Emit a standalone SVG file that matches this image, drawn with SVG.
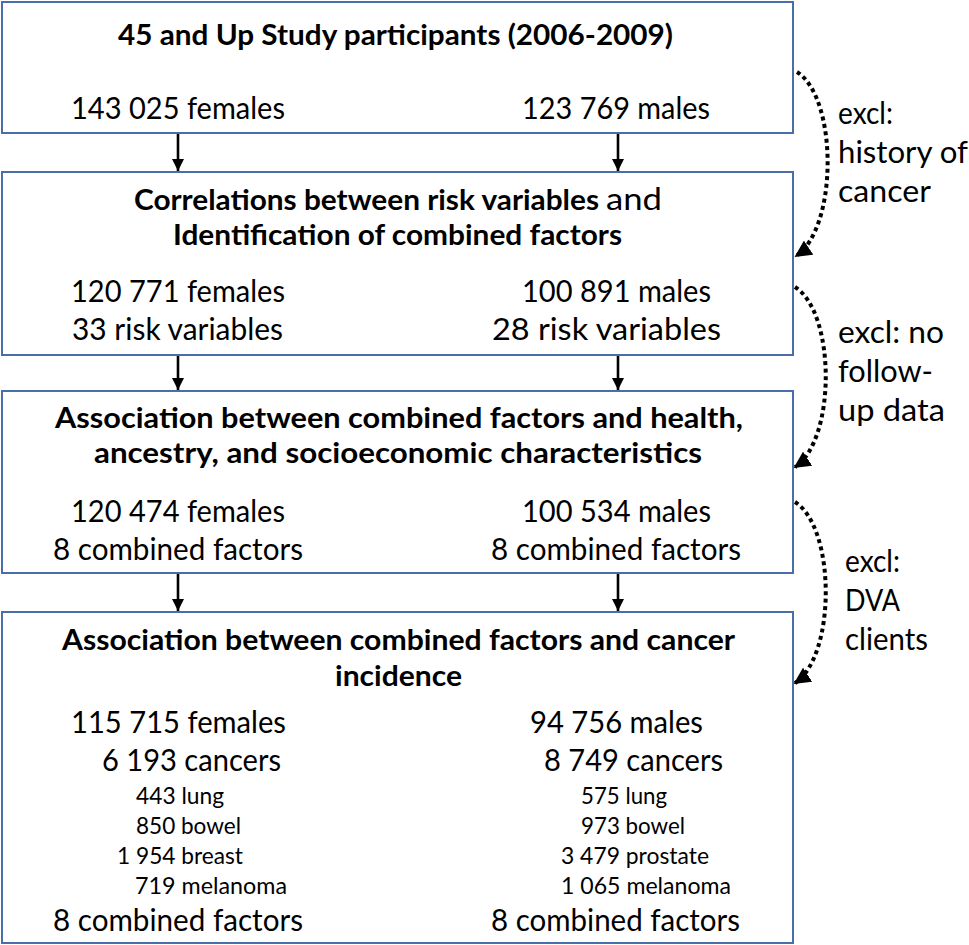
<svg xmlns="http://www.w3.org/2000/svg" width="969" height="945" viewBox="0 0 969 945">
<defs>
<style>
.box{fill:#ffffff;stroke:#4A6FA8;stroke-width:2}
.t{font-family:Lato,"Open Sans","Liberation Sans",sans-serif;font-size:30.5px;fill:#000}
.b{font-weight:bold;font-size:29px}
.s{font-size:23px}
.arr{stroke:#000;stroke-width:2.6;fill:none}
.dot{stroke:#000;stroke-width:4;fill:none;stroke-dasharray:4 3.5}
</style>
<marker id="ah" viewBox="0 0 10 10" refX="10" refY="5" markerWidth="5" markerHeight="4.6" orient="auto" markerUnits="strokeWidth">
<path d="M0,0 L10,5 L0,10 z" fill="#000"/>
</marker>
<marker id="dh" viewBox="0 0 10 10" refX="9" refY="5" markerWidth="4.2" markerHeight="4.2" orient="auto" markerUnits="strokeWidth">
<path d="M0,0 L10,5 L0,10 z" fill="#000"/>
</marker>
</defs>
<rect width="969" height="945" fill="#ffffff"/>

<g id="connectors">
<line class="arr" x1="178" y1="134" x2="178" y2="171" marker-end="url(#ah)"/>
<line class="arr" x1="618" y1="134" x2="618" y2="171" marker-end="url(#ah)"/>
<line class="arr" x1="178" y1="356" x2="178" y2="390" marker-end="url(#ah)"/>
<line class="arr" x1="618" y1="356" x2="618" y2="390" marker-end="url(#ah)"/>
<line class="arr" x1="178" y1="574" x2="178" y2="611" marker-end="url(#ah)"/>
<line class="arr" x1="618" y1="574" x2="618" y2="611" marker-end="url(#ah)"/>
<path class="dot" d="M797,72 C838,98 838,228 796,256" marker-end="url(#dh)"/>
<path class="dot" d="M795,287 C836,313 836,440 795,467" marker-end="url(#dh)"/>
<path class="dot" d="M795,502 C836,528 836,656 795,683" marker-end="url(#dh)"/>
</g>

<g id="node-participants">
<rect class="box" x="2" y="2" width="791" height="131"/>
<text class="t b" x="118" y="45" textLength="555" lengthAdjust="spacingAndGlyphs">45 and Up Study participants (2006-2009)</text>
<text class="t" x="71" y="119" textLength="214" lengthAdjust="spacingAndGlyphs">143 025 females</text>
<text class="t" x="522" y="119" textLength="188" lengthAdjust="spacingAndGlyphs">123 769 males</text>
</g>

<g id="node-correlations">
<rect class="box" x="2" y="172" width="791" height="183"/>
<text class="t b" x="134" y="210" textLength="465" lengthAdjust="spacingAndGlyphs">Correlations between risk variables</text>
<text class="t" x="606" y="210" textLength="56" lengthAdjust="spacingAndGlyphs">and</text>
<text class="t b" x="173" y="245" textLength="449" lengthAdjust="spacingAndGlyphs">Identification of combined factors</text>
<text class="t" x="71" y="302" textLength="214" lengthAdjust="spacingAndGlyphs">120 771 females</text>
<text class="t" x="72" y="340" textLength="211" lengthAdjust="spacingAndGlyphs">33 risk variables</text>
<text class="t" x="522" y="302" textLength="189" lengthAdjust="spacingAndGlyphs">100 891 males</text>
<text class="t" x="492" y="340" textLength="229" lengthAdjust="spacingAndGlyphs">28 risk variables</text>
</g>

<g id="node-association-health">
<rect class="box" x="2" y="391" width="791" height="182"/>
<text class="t b" x="55" y="428" textLength="688" lengthAdjust="spacingAndGlyphs">Association between combined factors and health,</text>
<text class="t b" x="94" y="463" textLength="608" lengthAdjust="spacingAndGlyphs">ancestry, and socioeconomic characteristics</text>
<text class="t" x="71" y="522" textLength="214" lengthAdjust="spacingAndGlyphs">120 474 females</text>
<text class="t" x="53" y="560" textLength="250" lengthAdjust="spacingAndGlyphs">8 combined factors</text>
<text class="t" x="522" y="522" textLength="189" lengthAdjust="spacingAndGlyphs">100 534 males</text>
<text class="t" x="491" y="560" textLength="250" lengthAdjust="spacingAndGlyphs">8 combined factors</text>
</g>

<g id="node-association-cancer">
<rect class="box" x="2" y="612" width="791" height="331"/>
<text class="t b" x="62" y="650" textLength="673" lengthAdjust="spacingAndGlyphs">Association between combined factors and cancer</text>
<text class="t b" x="335" y="686" textLength="127" lengthAdjust="spacingAndGlyphs">incidence</text>
<text class="t" x="71" y="733" textLength="215" lengthAdjust="spacingAndGlyphs">115 715 females</text>
<text class="t" x="102" y="771" textLength="179" lengthAdjust="spacingAndGlyphs">6 193 cancers</text>
<text class="t s" x="136" y="804" textLength="88" lengthAdjust="spacingAndGlyphs">443 lung</text>
<text class="t s" x="136" y="834" textLength="105" lengthAdjust="spacingAndGlyphs">850 bowel</text>
<text class="t s" x="117" y="864" textLength="126" lengthAdjust="spacingAndGlyphs">1 954 breast</text>
<text class="t s" x="135" y="894" textLength="152" lengthAdjust="spacingAndGlyphs">719 melanoma</text>
<text class="t" x="53" y="931" textLength="250" lengthAdjust="spacingAndGlyphs">8 combined factors</text>
<text class="t" x="530" y="733" textLength="173" lengthAdjust="spacingAndGlyphs">94 756 males</text>
<text class="t" x="544" y="771" textLength="179" lengthAdjust="spacingAndGlyphs">8 749 cancers</text>
<text class="t s" x="581" y="804" textLength="86" lengthAdjust="spacingAndGlyphs">575 lung</text>
<text class="t s" x="581" y="834" textLength="104" lengthAdjust="spacingAndGlyphs">973 bowel</text>
<text class="t s" x="561" y="864" textLength="148" lengthAdjust="spacingAndGlyphs">3 479 prostate</text>
<text class="t s" x="561" y="894" textLength="170" lengthAdjust="spacingAndGlyphs">1 065 melanoma</text>
<text class="t" x="491" y="931" textLength="249" lengthAdjust="spacingAndGlyphs">8 combined factors</text>
</g>

<g id="label-excl-cancer">
<text class="t" x="838" y="124" textLength="55" lengthAdjust="spacingAndGlyphs">excl:</text>
<text class="t" x="838" y="163" textLength="130" lengthAdjust="spacingAndGlyphs">history of</text>
<text class="t" x="838" y="202" textLength="93" lengthAdjust="spacingAndGlyphs">cancer</text>
</g>
<g id="label-excl-followup">
<text class="t" x="838" y="343" textLength="106" lengthAdjust="spacingAndGlyphs">excl: no</text>
<text class="t" x="838" y="382" textLength="95" lengthAdjust="spacingAndGlyphs">follow-</text>
<text class="t" x="838" y="421" textLength="107" lengthAdjust="spacingAndGlyphs">up data</text>
</g>
<g id="label-excl-dva">
<text class="t" x="845" y="572" textLength="55" lengthAdjust="spacingAndGlyphs">excl:</text>
<text class="t" x="845" y="611" textLength="55" lengthAdjust="spacingAndGlyphs">DVA</text>
<text class="t" x="845" y="650" textLength="83" lengthAdjust="spacingAndGlyphs">clients</text>
</g>
</svg>
